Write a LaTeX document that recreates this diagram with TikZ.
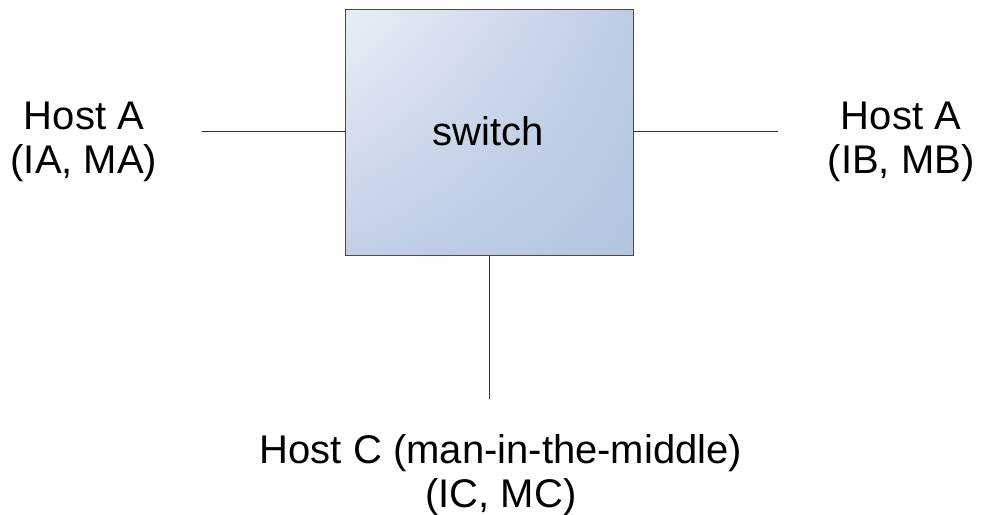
\documentclass[tikz,border=0pt]{standalone}
\usepackage{fontspec}
\setmainfont{Liberation Sans}
\usetikzlibrary{shadings}
\definecolor{boxedge}{HTML}{4A4A4A}
\definecolor{lineclr}{HTML}{333333}
\definecolor{ul}{HTML}{E9EEF7}
\definecolor{ur}{HTML}{BDCCE4}
\definecolor{ll}{HTML}{C2D0E6}
\definecolor{lr}{HTML}{B2C5E0}
\begin{document}
\begin{tikzpicture}[x=1pt,y=-1pt,
  txt/.style={font=\fontsize{40}{44}\selectfont, align=center, inner sep=0pt},
  conn/.style={draw=lineclr, line width=0.9pt}]
\useasboundingbox (0,0) rectangle (987,514);
\node[draw=boxedge, line width=1pt, minimum width=288pt, minimum height=246pt,
  upper left=ul, upper right=ur, lower left=ll, lower right=lr, inner sep=0pt]
  (sw) at (489,132) {};
\node[txt, anchor=base] (swt) at (488,145) {switch};
\node[txt] (ha) at (84,142) {Host A\\(IA, MA)};
\node[txt] (hb) at (901,142) {Host A\\(IB, MB)};
\node[txt] (hc) at (501,475) {Host C (man-in-the-middle)\\(IC, MC)};
\coordinate (la) at (202,131);
\coordinate (lb) at (778,131);
\coordinate (lc) at (489,399);
\draw[conn] (la) -- (la -| sw.west);
\draw[conn] (sw.east |- lb) -- (lb);
\draw[conn] (sw.south -| lc) -- (lc);
\end{tikzpicture}
\end{document}
